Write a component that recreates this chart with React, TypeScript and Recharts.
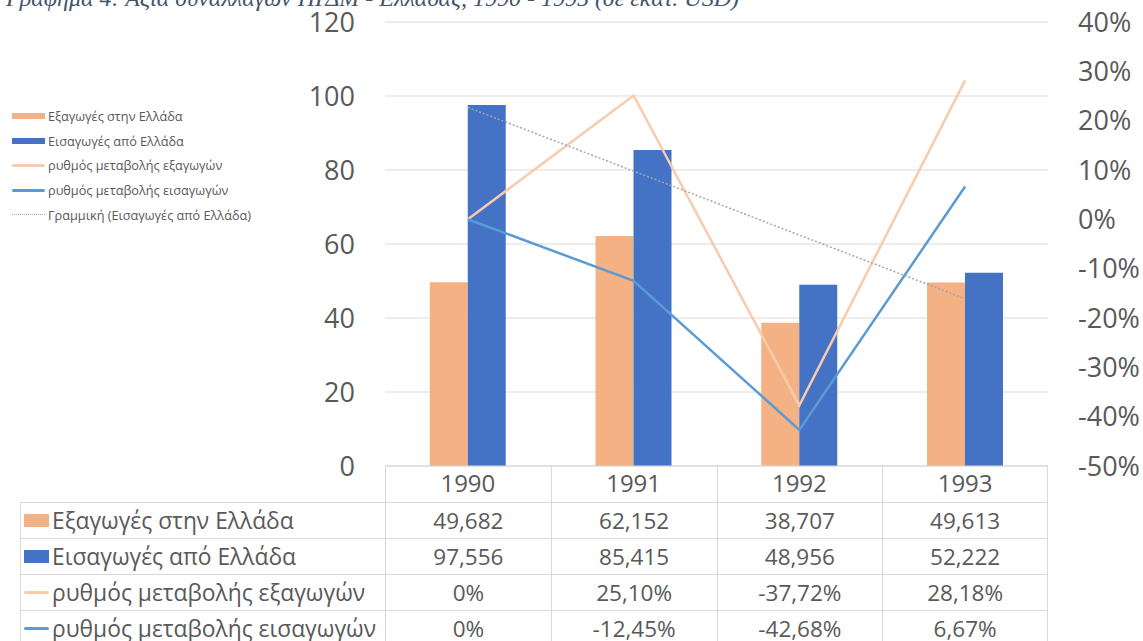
import React from 'react';
import { ComposedChart, Bar, Line, XAxis, YAxis, CartesianGrid, Legend } from 'recharts';

const years = ['1990', '1991', '1992', '1993'];
const exportsToGreece = [49.682, 62.152, 38.707, 49.613];
const importsFromGreece = [97.556, 85.415, 48.956, 52.222];
const exportChange = [0, 25.1, -37.72, 28.18];
const importChange = [0, -12.45, -42.68, 6.67];
// Excel linear trendline of imports
const importsTrend = [96.9, 79.7, 62.4, 45.2];

const leftTicks = [0, 20, 40, 60, 80, 100, 120];
const rightTicks = [-50, -40, -30, -20, -10, 0, 10, 20, 30, 40];

const COLORS = {
    exports: '#F4B183',
    imports: '#4472C4',
    exportChange: '#F8CBAD',
    importChange: '#5B9BD5',
    trend: '#A6A6A6',
    grid: '#D9D9D9',
    text: '#595959',
};

const FONT = '"Open Sans", "Noto Sans", sans-serif';

const series = [
    { key: 'exports', name: 'Εξαγωγές στην Ελλάδα', color: COLORS.exports, kind: 'bar' },
    { key: 'imports', name: 'Εισαγωγές από Ελλάδα', color: COLORS.imports, kind: 'bar' },
    { key: 'exportChange', name: 'ρυθμός μεταβολής εξαγωγών', color: COLORS.exportChange, kind: 'line' },
    { key: 'importChange', name: 'ρυθμός μεταβολής εισαγωγών', color: COLORS.importChange, kind: 'line' },
    { key: 'trend', name: 'Γραμμική (Εισαγωγές από Ελλάδα)', color: COLORS.trend, kind: 'dots' },
];

const data = years.map((year, i) => ({
    year,
    exports: exportsToGreece[i],
    imports: importsFromGreece[i],
    exportChange: exportChange[i],
    importChange: importChange[i],
    trend: importsTrend[i],
}));

const fmtValue = (v: number) => v.toFixed(3).replace('.', ',');
const fmtPct = (v: number) => (v === 0 ? '0%' : v.toFixed(2).replace('.', ',') + '%');

const tableRows = [
    { series: series[0], values: exportsToGreece.map(fmtValue) },
    { series: series[1], values: importsFromGreece.map(fmtValue) },
    { series: series[2], values: exportChange.map(fmtPct) },
    { series: series[3], values: importChange.map(fmtPct) },
];

const W = 1143;
const H = 641;
const PLOT_LEFT = 385;
const PLOT_RIGHT = 1048;
const PLOT_BOTTOM = 466;
const HEADER_H = 36;
const ROW_H = 36;
const colW = (PLOT_RIGHT - PLOT_LEFT) / years.length;

const Swatch = ({ kind, color, w, barH }: { kind: string; color: string; w: number; barH: number }) => {
    if (kind === 'bar') return <span style={{ display: 'inline-block', width: w, height: barH, background: color }} />;
    if (kind === 'line') return <span style={{ display: 'inline-block', width: w, height: 3, background: color, borderRadius: 2 }} />;
    return <span style={{ display: 'inline-block', width: w, height: 0, borderTop: `1.5px dotted ${color}` }} />;
};

const renderLegend = () => (
    <div style={{ fontFamily: FONT, fontSize: 12.7, color: COLORS.text }}>
        {series.map(s => (
            <div key={s.key} style={{ display: 'flex', alignItems: 'center', height: 24.6, whiteSpace: 'nowrap' }}>
                <Swatch kind={s.kind} color={s.color} w={33} barH={6} />
                <span style={{ marginLeft: 3 }}>{s.name}</span>
            </div>
        ))}
    </div>
);

const DataTable = () => (
    <div style={{ position: 'absolute', left: 0, top: 0, width: W, height: H, pointerEvents: 'none', fontFamily: FONT, color: COLORS.text }}>
        {years.map((y, i) => (
            <div key={y} style={{
                position: 'absolute', left: PLOT_LEFT + i * colW, top: PLOT_BOTTOM, width: colW, height: HEADER_H,
                borderLeft: `1px solid ${COLORS.grid}`, borderRight: i === years.length - 1 ? `1px solid ${COLORS.grid}` : 'none',
                boxSizing: 'border-box',
            }} />
        ))}
        {tableRows.map((row, r) => {
            const top = PLOT_BOTTOM + HEADER_H + r * ROW_H;
            return (
                <React.Fragment key={row.series.key}>
                    <div style={{
                        position: 'absolute', left: 20, top, width: PLOT_LEFT - 20, height: ROW_H,
                        borderLeft: `1px solid ${COLORS.grid}`, borderTop: `1px solid ${COLORS.grid}`,
                        boxSizing: 'border-box', display: 'flex', alignItems: 'center', fontSize: 22.8, whiteSpace: 'nowrap',
                    }}>
                        <span style={{ marginLeft: 3, display: 'inline-flex', alignItems: 'center' }}>
                            <Swatch kind={row.series.kind} color={row.series.color} w={25} barH={13} />
                        </span>
                        <span style={{ marginLeft: 3 }}>{row.series.name}</span>
                    </div>
                    {row.values.map((v, i) => (
                        <div key={i} style={{
                            position: 'absolute', left: PLOT_LEFT + i * colW, top, width: colW, height: ROW_H,
                            borderLeft: `1px solid ${COLORS.grid}`, borderTop: `1px solid ${COLORS.grid}`,
                            borderRight: i === years.length - 1 ? `1px solid ${COLORS.grid}` : 'none',
                            boxSizing: 'border-box', display: 'flex', alignItems: 'center', justifyContent: 'center', fontSize: 22.5,
                        }}>
                            {v}
                        </div>
                    ))}
                </React.Fragment>
            );
        })}
    </div>
);

export default function App() {
    return (
        <div style={{ position: 'absolute', left: 0, top: 0, width: W, height: H, overflow: 'hidden', background: '#fff' }}>
            <div style={{
                position: 'absolute', left: 6, top: -14, fontFamily: '"Liberation Serif", serif', fontStyle: 'italic',
                fontSize: 24, lineHeight: '24px', color: '#44546A', whiteSpace: 'nowrap',
            }}>
                Γράφημα 4: Αξία συναλλαγών ΠΓΔΜ - Ελλάδας, 1990 - 1995 (σε εκατ. USD)
            </div>
            <ComposedChart
                width={W}
                height={H}
                data={data}
                margin={{ top: 22, right: 0, left: 0, bottom: H - PLOT_BOTTOM - HEADER_H }}
                barCategoryGap="27%"
                barGap={0}
                style={{ fontFamily: FONT }}
            >
                <CartesianGrid yAxisId="left" vertical={false} stroke={COLORS.grid} />
                <XAxis
                    dataKey="year"
                    height={HEADER_H}
                    axisLine={{ stroke: COLORS.grid }}
                    tickLine={false}
                    tickMargin={3}
                    tick={{ fontSize: 24, fill: COLORS.text }}
                />
                <YAxis
                    yAxisId="left"
                    width={PLOT_LEFT}
                    domain={[0, 120]}
                    ticks={leftTicks}
                    axisLine={false}
                    tickLine={false}
                    tickMargin={24}
                    tick={{ fontSize: 27, fill: COLORS.text }}
                />
                <YAxis
                    yAxisId="right"
                    orientation="right"
                    width={W - PLOT_RIGHT}
                    domain={[-50, 40]}
                    ticks={rightTicks}
                    axisLine={false}
                    tickLine={false}
                    tickMargin={24}
                    tickFormatter={(v: number) => `${v}%`}
                    tick={{ fontSize: 27, fill: COLORS.text }}
                />
                <Legend
                    layout="vertical"
                    align="center"
                    verticalAlign="middle"
                    content={renderLegend}
                    wrapperStyle={{ position: 'absolute', left: 12, top: 104, width: 300 }}
                />
                <Bar yAxisId="left" dataKey="exports" name={series[0].name} fill={COLORS.exports} isAnimationActive={false} />
                <Bar yAxisId="left" dataKey="imports" name={series[1].name} fill={COLORS.imports} isAnimationActive={false} />
                <Line yAxisId="right" type="linear" dataKey="exportChange" name={series[2].name} stroke={COLORS.exportChange} strokeWidth={2.5} dot={false} isAnimationActive={false} />
                <Line yAxisId="right" type="linear" dataKey="importChange" name={series[3].name} stroke={COLORS.importChange} strokeWidth={2.5} dot={false} isAnimationActive={false} />
                <Line yAxisId="left" type="linear" dataKey="trend" name={series[4].name} stroke={COLORS.trend} strokeWidth={1.5} strokeDasharray="2 2" dot={false} isAnimationActive={false} />
            </ComposedChart>
            <DataTable />
        </div>
    );
}
